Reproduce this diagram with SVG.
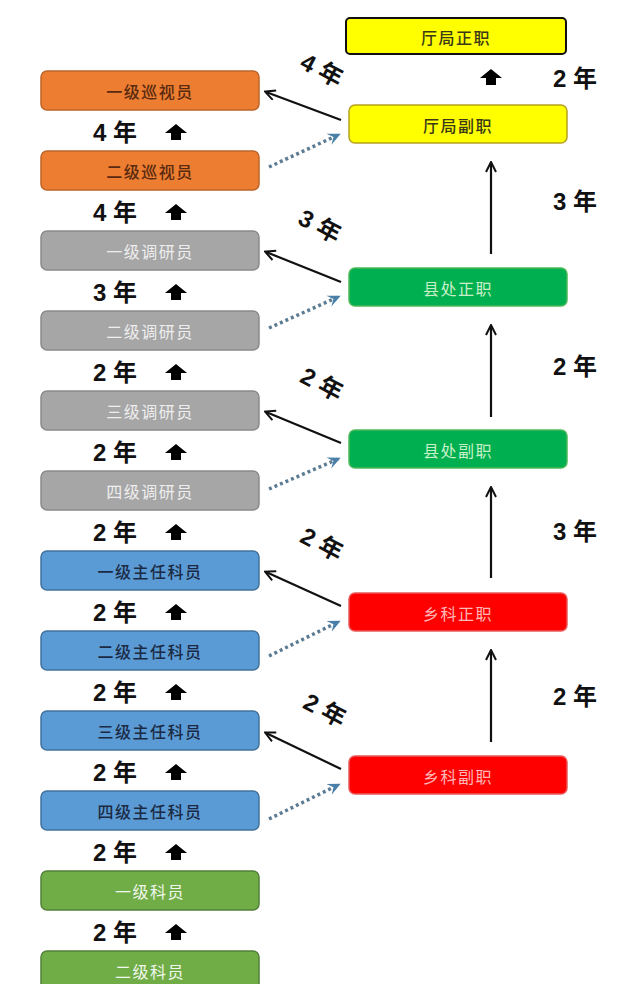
<svg xmlns="http://www.w3.org/2000/svg" width="640" height="984" viewBox="0 0 640 984">
<defs>
<style>
.box{stroke-width:1.5}
.lbl{font-family:"Noto Sans CJK SC","Liberation Sans",sans-serif;font-size:16px;text-anchor:middle;dominant-baseline:central;letter-spacing:1.5px}
.orange rect{fill:#ED7D31;stroke:#BC6429}
.orange text{fill:#5a2a10;font-weight:500}
.gray rect{fill:#A6A6A6;stroke:#8a8a8a}
.gray text{fill:#eeeeee}
.blue rect{fill:#5B9BD5;stroke:#41719C}
.blue text{fill:#1b2a44;font-weight:500}
.lgreen rect{fill:#70AD47;stroke:#52803A}
.lgreen text{fill:#f0f7ec}
.yellow rect{fill:#FFFF00;stroke:#B5A020}
.yellow text{fill:#3a3a18;font-weight:500}
.rgreen rect{fill:#00B050;stroke:#4cb85a}
.rgreen text{fill:#c8efc8}
.red rect{fill:#FF0000;stroke:#e85a5a}
.red text{fill:#ffb8b8}
.yr{font-family:"Liberation Sans","Noto Sans CJK SC",sans-serif;font-size:24px;font-weight:bold;fill:#111}
.up{fill:#000}
.solid{stroke:#111;stroke-width:2.2;fill:none}
.dot{stroke:#5c7c94;stroke-width:3.5;stroke-dasharray:3 3;fill:none}
</style>
<marker id="open" viewBox="0 0 12 12" refX="10" refY="6" markerWidth="12" markerHeight="12" markerUnits="userSpaceOnUse" orient="auto">
<path d="M1,1 L11,6 L1,11" fill="none" stroke="#111" stroke-width="2"/>
</marker>
<marker id="chev" viewBox="0 0 14 14" refX="10" refY="7" markerWidth="14" markerHeight="14" markerUnits="userSpaceOnUse" orient="auto">
<path d="M0,1 L13,7 L0,13 L5,7 Z" fill="#4a7fa8"/>
</marker>
<path id="bup" d="M0,0 L11,9 L5,9 L5,16 L-5,16 L-5,9 L-11,9 Z"/>
</defs>
<rect width="640" height="984" fill="#ffffff"/>

<g id="left-column">
<g id="n1" class="orange"><rect class="box" x="41" y="71" width="218" height="39" rx="6"/><text class="lbl" x="150" y="91">一级巡视员</text></g>
<g id="n2" class="orange"><rect class="box" x="41" y="151" width="218" height="39" rx="6"/><text class="lbl" x="150" y="171">二级巡视员</text></g>
<g id="n3" class="gray"><rect class="box" x="41" y="231" width="218" height="39" rx="6"/><text class="lbl" x="150" y="251">一级调研员</text></g>
<g id="n4" class="gray"><rect class="box" x="41" y="311" width="218" height="39" rx="6"/><text class="lbl" x="150" y="331">二级调研员</text></g>
<g id="n5" class="gray"><rect class="box" x="41" y="391" width="218" height="39" rx="6"/><text class="lbl" x="150" y="411">三级调研员</text></g>
<g id="n6" class="gray"><rect class="box" x="41" y="471" width="218" height="39" rx="6"/><text class="lbl" x="150" y="491">四级调研员</text></g>
<g id="n7" class="blue"><rect class="box" x="41" y="551" width="218" height="39" rx="6"/><text class="lbl" x="150" y="571">一级主任科员</text></g>
<g id="n8" class="blue"><rect class="box" x="41" y="631" width="218" height="39" rx="6"/><text class="lbl" x="150" y="651">二级主任科员</text></g>
<g id="n9" class="blue"><rect class="box" x="41" y="711" width="218" height="39" rx="6"/><text class="lbl" x="150" y="731">三级主任科员</text></g>
<g id="n10" class="blue"><rect class="box" x="41" y="791" width="218" height="39" rx="6"/><text class="lbl" x="150" y="811">四级主任科员</text></g>
<g id="n11" class="lgreen"><rect class="box" x="41" y="871" width="218" height="39" rx="6"/><text class="lbl" x="150" y="891">一级科员</text></g>
<g id="n12" class="lgreen"><rect class="box" x="41" y="951" width="218" height="39" rx="6"/><text class="lbl" x="150" y="971">二级科员</text></g>
</g>

<g id="right-column">
<g id="r0" class="yellow"><rect x="346" y="18" width="220" height="36" rx="4" style="stroke:#111;stroke-width:2"/><text class="lbl" x="456" y="37">厅局正职</text></g>
<g id="r1" class="yellow"><rect class="box" x="349" y="105" width="218" height="38" rx="6"/><text class="lbl" x="458" y="125">厅局副职</text></g>
<g id="r2" class="rgreen"><rect class="box" x="349" y="268" width="218" height="38" rx="6"/><text class="lbl" x="458" y="288">县处正职</text></g>
<g id="r3" class="rgreen"><rect class="box" x="349" y="430" width="218" height="38" rx="6"/><text class="lbl" x="458" y="450">县处副职</text></g>
<g id="r4" class="red"><rect class="box" x="349" y="593" width="218" height="38" rx="6"/><text class="lbl" x="458" y="613">乡科正职</text></g>
<g id="r5" class="red"><rect class="box" x="349" y="756" width="218" height="38" rx="6"/><text class="lbl" x="458" y="776">乡科副职</text></g>
</g>

<g id="connectors">
<line class="solid" x1="341" y1="120" x2="266" y2="92" marker-end="url(#open)"/>
<line class="solid" x1="341" y1="282" x2="266" y2="252" marker-end="url(#open)"/>
<line class="solid" x1="341" y1="443" x2="266" y2="412" marker-end="url(#open)"/>
<line class="solid" x1="341" y1="606" x2="266" y2="572" marker-end="url(#open)"/>
<line class="solid" x1="341" y1="769" x2="266" y2="733" marker-end="url(#open)"/>
<line class="dot" x1="269" y1="167" x2="338" y2="135" marker-end="url(#chev)"/>
<line class="dot" x1="269" y1="328" x2="338" y2="297" marker-end="url(#chev)"/>
<line class="dot" x1="269" y1="489" x2="338" y2="459" marker-end="url(#chev)"/>
<line class="dot" x1="269" y1="656" x2="338" y2="622" marker-end="url(#chev)"/>
<line class="dot" x1="269" y1="819" x2="338" y2="785" marker-end="url(#chev)"/>
<line class="solid" x1="491" y1="254" x2="491" y2="163" marker-end="url(#open)"/>
<line class="solid" x1="491" y1="417" x2="491" y2="326" marker-end="url(#open)"/>
<line class="solid" x1="491" y1="578" x2="491" y2="488" marker-end="url(#open)"/>
<line class="solid" x1="491" y1="742" x2="491" y2="651" marker-end="url(#open)"/>
<use href="#bup" class="up" x="491" y="69"/>
<use href="#bup" class="up" x="176" y="124"/>
<use href="#bup" class="up" x="176" y="204"/>
<use href="#bup" class="up" x="176" y="284"/>
<use href="#bup" class="up" x="176" y="364"/>
<use href="#bup" class="up" x="176" y="444"/>
<use href="#bup" class="up" x="176" y="524"/>
<use href="#bup" class="up" x="176" y="604"/>
<use href="#bup" class="up" x="176" y="684"/>
<use href="#bup" class="up" x="176" y="764"/>
<use href="#bup" class="up" x="176" y="844"/>
<use href="#bup" class="up" x="176" y="924"/>
</g>

<g id="year-labels">
<text class="yr" x="93" y="141">4 年</text>
<text class="yr" x="93" y="221">4 年</text>
<text class="yr" x="93" y="301">3 年</text>
<text class="yr" x="93" y="381">2 年</text>
<text class="yr" x="93" y="461">2 年</text>
<text class="yr" x="93" y="541">2 年</text>
<text class="yr" x="93" y="621">2 年</text>
<text class="yr" x="93" y="701">2 年</text>
<text class="yr" x="93" y="781">2 年</text>
<text class="yr" x="93" y="861">2 年</text>
<text class="yr" x="93" y="941">2 年</text>
<text class="yr" x="553" y="87">2 年</text>
<text class="yr" x="553" y="210">3 年</text>
<text class="yr" x="553" y="375">2 年</text>
<text class="yr" x="553" y="540">3 年</text>
<text class="yr" x="553" y="705">2 年</text>
<text class="yr" transform="translate(322,70) rotate(28)" text-anchor="middle" dominant-baseline="central">4 年</text>
<text class="yr" transform="translate(320,226) rotate(28)" text-anchor="middle" dominant-baseline="central">3 年</text>
<text class="yr" transform="translate(322,384) rotate(28)" text-anchor="middle" dominant-baseline="central">2 年</text>
<text class="yr" transform="translate(322,544) rotate(28)" text-anchor="middle" dominant-baseline="central">2 年</text>
<text class="yr" transform="translate(325,710) rotate(28)" text-anchor="middle" dominant-baseline="central">2 年</text>
</g>
</svg>
